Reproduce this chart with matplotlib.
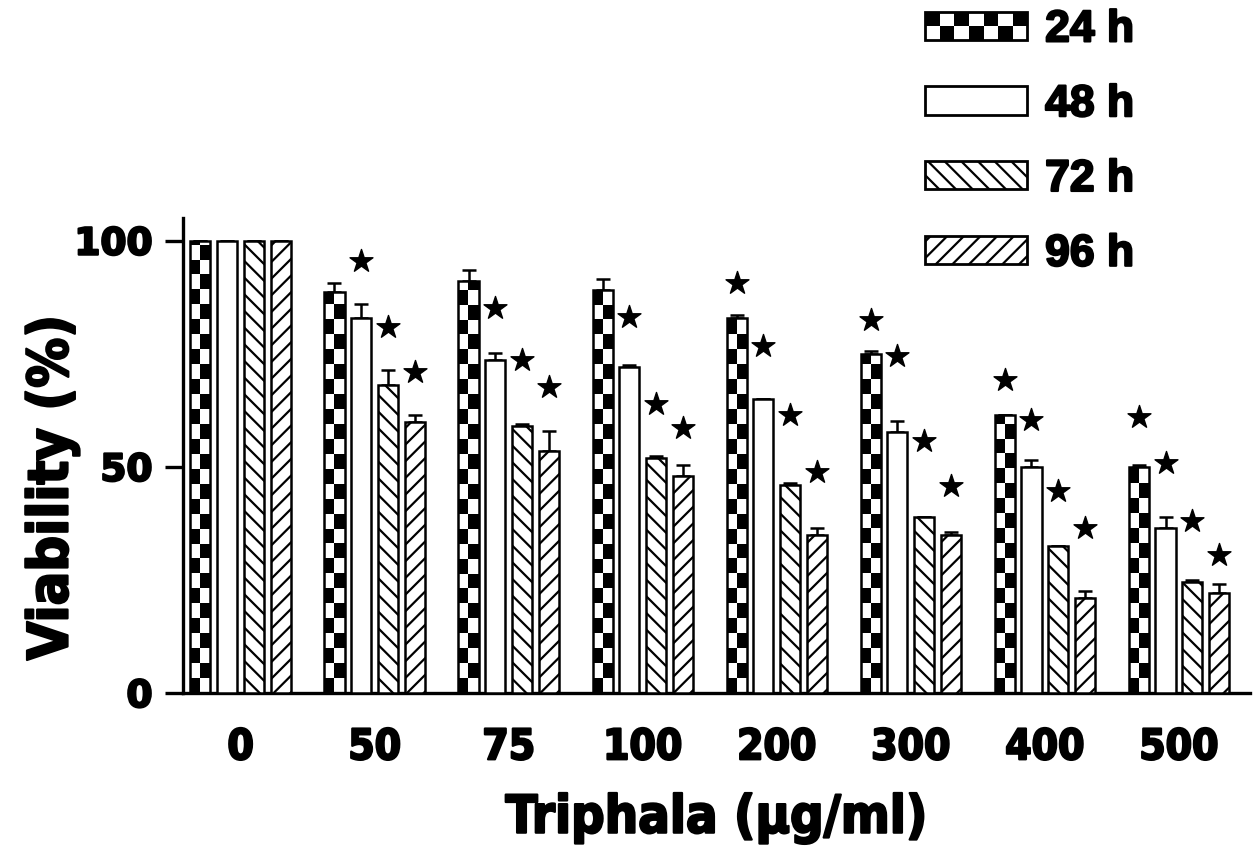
import numpy as np
import matplotlib
matplotlib.use("Agg")
import matplotlib.pyplot as plt
from matplotlib.patches import Rectangle
from matplotlib.legend_handler import HandlerBase
from matplotlib import font_manager as fm
import matplotlib.patheffects as pe

categories = ["0", "50", "75", "100", "200", "300", "400", "500"]
series = ["24 h", "48 h", "72 h", "96 h"]
v24 = [100, 88.7, 91.0, 89.0, 83.0, 75.0, 61.5, 50.0]
v48 = [100, 83.0, 73.7, 72.0, 65.0, 57.7, 50.0, 36.5]
v72 = [100, 68.0, 59.0, 52.0, 46.0, 39.0, 32.5, 24.5]
v96 = [100, 60.0, 53.5, 48.0, 35.0, 35.0, 21.0, 22.0]
e24 = [0, 2.0, 2.5, 2.5, 0.5, 0.5, 0.0, 0.5]
e48 = [0, 3.0, 1.5, 0.5, 0.0, 2.5, 1.5, 2.5]
e72 = [0, 3.5, 0.5, 0.5, 0.5, 0.0, 0.0, 0.5]
e96 = [0, 1.5, 4.5, 2.5, 1.5, 0.5, 1.5, 2.0]
# heights of significance stars (None = no star)
s24 = [None, None, None, None, 90.7, 82.5, 69.2, 61.1]
s48 = [None, 95.4, 85.0, 83.2, 76.8, 74.6, 60.4, 50.9]
s72 = [None, 80.8, 73.7, 63.9, 61.5, 55.8, 44.7, 38.1]
s96 = [None, 71.0, 67.7, 58.6, 48.9, 45.8, 36.5, 30.5]

values = [v24, v48, v72, v96]
errors = [e24, e48, e72, e96]
stars = [s24, s48, s72, s96]
hatches = [None, None, "\\\\", "//"]


def has_family(name):
    try:
        fm.findfont(fm.FontProperties(family=name, weight="bold"), fallback_to_default=False)
        return True
    except Exception:
        return False


if has_family("Liberation Sans Narrow"):
    narrow = dict(family="Liberation Sans Narrow", weight="bold")
    nscale = 1.0
else:
    narrow = dict(family="DejaVu Sans", weight="bold", stretch="condensed")
    nscale = 0.8

heavy = [pe.withStroke(linewidth=1.6, foreground="black")]

plt.rcParams["hatch.linewidth"] = 1.6
plt.rcParams["font.family"] = ["DejaVu Sans"]
plt.rcParams["font.weight"] = "bold"

fig = plt.figure(figsize=(12.57, 8.55), dpi=100)
ax = fig.add_axes([0.1456, 0.1895, 0.8488, 0.5555])

x = np.arange(len(categories))
step = 0.2
width = 0.15
bar_containers = []
for i, (vals, errs, h) in enumerate(zip(values, errors, hatches)):
    pos = x + (i - 1.5) * step
    bc = ax.bar(pos, vals, width=width, facecolor="white" if i != 0 else "none",
                edgecolor="black", linewidth=1.8, hatch=h, zorder=3)
    ax.errorbar(pos, vals, yerr=[np.zeros(len(vals)), errs], fmt="none",
                ecolor="black", elinewidth=1.8, capsize=5, capthick=1.8, zorder=2)
    bar_containers.append(bc)
    sx = [p for p, s in zip(pos, stars[i]) if s is not None]
    sy = [s for s in stars[i] if s is not None]
    ax.scatter(sx, sy, marker="*", s=300, color="black", zorder=4,
               edgecolors="black", linewidths=1.0)

# checkerboard fill for 24 h bars
cell = 3.3
for rect in bar_containers[0].patches:
    x0, w, hgt = rect.get_x(), rect.get_width(), rect.get_height()
    nrows = int(np.ceil(hgt / cell))
    board = np.indices((nrows, 2)).sum(axis=0) % 2
    im = ax.imshow(board, extent=[x0, x0 + w, 0, nrows * cell], origin="lower",
                   cmap="gray", interpolation="nearest", aspect="auto", zorder=2.5)
    im.set_clip_path(rect)

ax.set_xlim(-0.43, 7.53)
ax.set_ylim(0, 105)
ax.set_aspect("auto")

for sp in ["top", "right"]:
    ax.spines[sp].set_visible(False)
for sp in ["left", "bottom"]:
    ax.spines[sp].set_linewidth(2.4)

ax.set_xticks(x)
ax.set_xticklabels(categories)
ax.set_yticks([0, 50, 100])
ax.tick_params(axis="x", length=0, pad=24)
ax.tick_params(axis="y", length=13, width=2.4, pad=9)
for lab in ax.get_xticklabels():
    lab.set_fontproperties(fm.FontProperties(size=38 * nscale, **narrow))
    lab.set_path_effects(heavy)
for lab in ax.get_yticklabels():
    lab.set_fontproperties(fm.FontProperties(family="DejaVu Sans", weight="bold", size=27))
    lab.set_path_effects(heavy)

ax.set_xlabel("Triphala (µg/ml)", fontproperties=fm.FontProperties(size=47 * nscale, **narrow),
              path_effects=heavy)
ax.xaxis.set_label_coords(0.5, -0.212)
ax.set_ylabel("Viability (%)", fontproperties=fm.FontProperties(size=50 * nscale, **narrow),
              path_effects=heavy)
ax.yaxis.set_label_coords(-0.097, 0.432)


class CheckerHandler(HandlerBase):
    def create_artists(self, legend, orig_handle, xdescent, ydescent,
                       width, height, fontsize, trans):
        arts = [Rectangle((-xdescent, -ydescent), width, height, facecolor="white",
                          edgecolor="black", linewidth=2.0, transform=trans)]
        ncol = 7
        cw = width / ncol
        ch = height / 2
        for c in range(ncol):
            for r in range(2):
                if (c + r) % 2 == 1:
                    arts.append(Rectangle((-xdescent + c * cw, -ydescent + r * ch), cw, ch,
                                          facecolor="black", edgecolor="none", transform=trans))
        return arts


leg_handles = [Rectangle((0, 0), 1, 1, facecolor="white", edgecolor="black", lw=2.0),
               Rectangle((0, 0), 1, 1, facecolor="white", edgecolor="black", lw=2.0),
               Rectangle((0, 0), 1, 1, facecolor="white", edgecolor="black", lw=2.0, hatch="\\\\"),
               Rectangle((0, 0), 1, 1, facecolor="white", edgecolor="black", lw=2.0, hatch="//")]
leg = fig.legend(leg_handles, series, loc="upper left", bbox_to_anchor=(0.736, 0.989),
                 frameon=False, handlelength=2.3, handleheight=0.6,
                 labelspacing=0.76, handletextpad=0.4, borderpad=0, borderaxespad=0,
                 handler_map={leg_handles[0]: CheckerHandler()},
                 prop=fm.FontProperties(family="Liberation Sans", weight="bold", size=32))
for t in leg.get_texts():
    t.set_path_effects(heavy)

fig.savefig("out.png", dpi=100)
